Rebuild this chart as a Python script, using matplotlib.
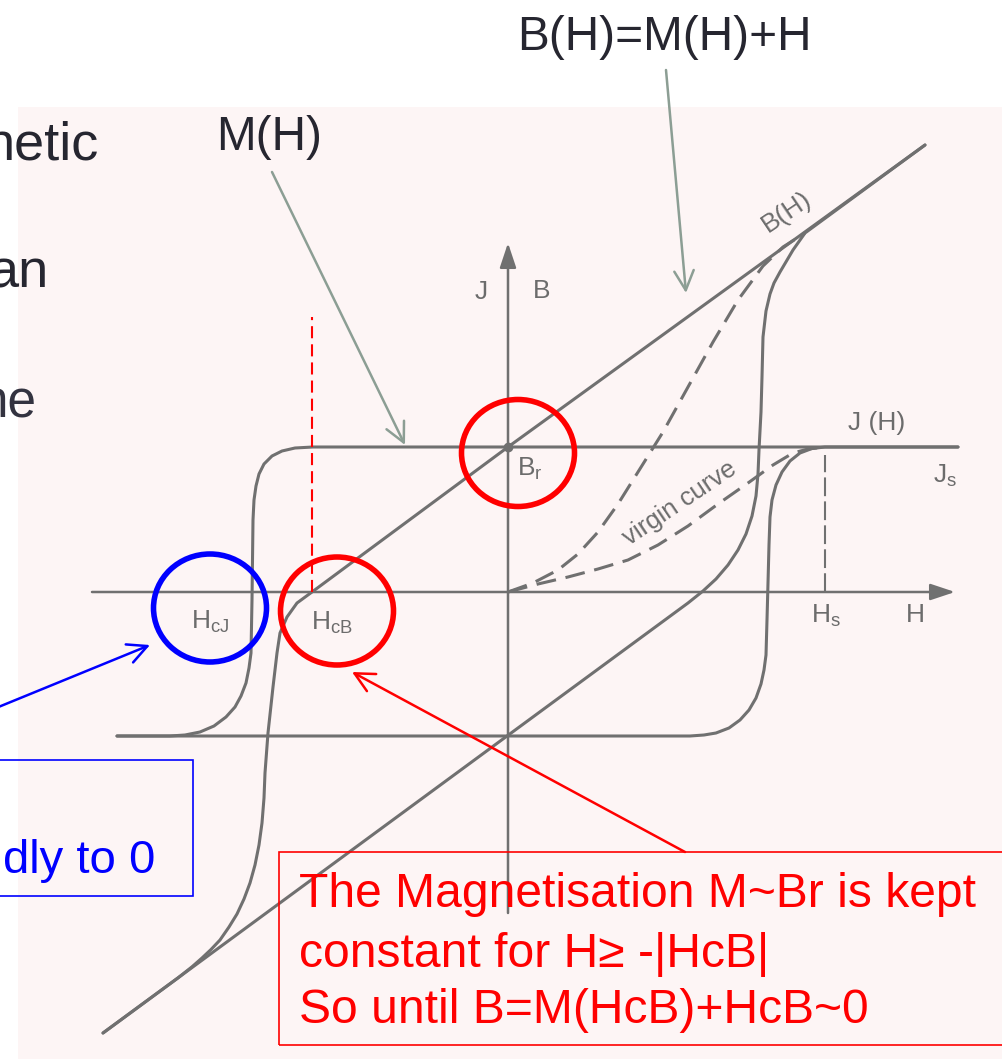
import matplotlib
matplotlib.use('Agg')
import matplotlib.pyplot as plt
from matplotlib.patches import Ellipse, Rectangle

plt.rcParams['font.family'] = ['Liberation Sans', 'DejaVu Sans']
plt.rcParams['mathtext.fontset'] = 'custom'
plt.rcParams['mathtext.rm'] = 'Liberation Sans'

# diagram values in arbitrary units (origin where the H and J/B axes cross)
Js = 145
Br = 145
Hs = 317
HcB = -196
HcJ = -256

# J(H) loop, descending branch
H_J_down = [450, -195, -213, -226, -236, -244, -249, -252, -254, -255, -256, -257,
            -259, -262, -267, -273, -282, -294, -308, -323, -338, -391]
J_down = [145, 145, 144, 141, 136, 128, 118, 106, 92, 72, -8, -61,
          -76, -91, -104, -115, -125, -134, -140, -143, -144, -144]

# J(H) loop, ascending branch
H_J_up = [-391, 182, 196, 208, 221, 232, 241, 248, 253, 256, 258, 259,
          260, 261, 262, 264, 268, 274, 282, 292, 304, 317, 450]
J_up = [-144, -144, -143, -141, -136, -128, -118, -106, -92, -78, -63, -28,
        9, 47, 75, 92, 107, 120, 131, 139, 143.5, 145, 145]

# B(H) loop, descending branch
H_B_down = [417, 0, -196, -211, -221, -228, -231, -235, -240, -243, -244, -246,
            -249, -253, -258, -264, -271, -279, -288, -297, -306, -316, -330, -405]
B_down = [447, 145, 0, -11, -25, -41, -61, -95, -141, -181, -206, -231,
          -253, -273, -291, -307, -322, -335, -348, -357.5, -366, -374.8, -385.9, -441]

# B(H) loop, ascending branch
H_B_up = [-405, 180, 195, 208, 220, 230, 238, 244, 248, 250, 251, 253, 254, 255,
          258, 262, 266, 272, 285, 297, 417]
B_up = [-441, -11, 1, 13, 27, 42, 58, 76, 96, 118, 142, 180, 215, 255,
        281, 298, 309, 320, 342, 359, 447]

# virgin curves
H_virgin_B = [0, 25, 50, 70, 90, 110, 130, 155, 180, 205, 230, 255, 275, 297]
B_virgin = [0, 9, 22, 38, 60, 88, 120, 160, 205, 250, 292, 326, 345, 359]
H_virgin_J = [0, 30, 60, 90, 120, 150, 180, 210, 240, 265, 285, 300, 317]
J_virgin = [0, 8, 15, 23, 32, 47, 66, 88, 109, 127, 139, 143, 145]

H_axis = (-416, 447)
J_axis = (-321, 349)

grey = '#707070'
label_grey = '#6c6c6c'
arrow_grey = '#8c9e94'
dark = '#262630'

fig = plt.figure(figsize=(10.02, 10.59), dpi=100)
fig.patch.set_facecolor('white')
ax = fig.add_axes([0, 0, 1, 1])
ax.set_xlim(-508, 494)
ax.set_ylim(-467, 592)
ax.axis('off')

ax.add_patch(Rectangle((-490, -467), 984, 952, facecolor='#fdf5f5',
                       edgecolor='none', zorder=0))

# axes of the diagram
axis_arrow = dict(arrowstyle='-|>,head_length=0.75,head_width=0.25',
                  mutation_scale=20, lw=1.8, color=grey, shrinkA=0, shrinkB=0)
ax.annotate('', xy=(H_axis[1], 0), xytext=(H_axis[0], 0), arrowprops=axis_arrow, zorder=2)
ax.annotate('', xy=(0, J_axis[1]), xytext=(0, J_axis[0]), arrowprops=axis_arrow, zorder=2)

# loops
line_kw = dict(color=grey, lw=2.2, solid_joinstyle='round', solid_capstyle='round', zorder=2)
ax.plot(H_J_down, J_down, **line_kw)
ax.plot(H_J_up, J_up, **line_kw)
ax.plot(H_B_down, B_down, **line_kw)
ax.plot(H_B_up, B_up, **line_kw)

ax.plot(H_virgin_B, B_virgin, color=grey, lw=2.2, dashes=(6.5, 3.2), zorder=2)
ax.plot(H_virgin_J, J_virgin, color=grey, lw=2.2, dashes=(6.5, 3.2), zorder=2)
ax.plot([Hs, Hs], [0, Js - 8], color=grey, lw=1.5, dashes=(9, 2.5), zorder=2)
ax.plot([0], [Br], 'o', color=grey, ms=6, zorder=3)

ax.plot([HcB, HcB], [0, 275], color='#ff0000', lw=1.5, dashes=(5.8, 2.9), zorder=3)

# labels of the scanned diagram
lab = dict(color=label_grey, fontsize=19, ha='center', va='center', zorder=4)
ax.text(-27, 300, 'J', **lab)
ax.text(34, 301, 'B', **lab)
ax.text(279, 380, 'B(H)', rotation=34, **lab)
ax.text(369, 169, 'J (H)', **lab)
ax.text(437, 116, r'$\mathregular{J_s}$', **lab)
ax.text(22, 123, r'$\mathregular{B_r}$', **lab)
ax.text(172, 89, 'virgin curve', rotation=34, color=label_grey, fontsize=18.5,
        ha='center', va='center', zorder=4)
ax.text(318, -24, r'$\mathregular{H_s}$', **lab)
ax.text(407, -23, 'H', **lab)
ax.text(HcJ - 42, -30, r'$\mathregular{H_{cJ}}$', **lab)
ax.text(HcB + 20, -31, r'$\mathregular{H_{cB}}$', **lab)

# highlight circles
ax.add_patch(Ellipse((10, Br - 6), 113, 107, fill=False, ec='#ff0000', lw=4, zorder=5))
ax.add_patch(Ellipse((HcB + 25, -19), 113, 108, fill=False, ec='#ff0000', lw=4, zorder=5))
ax.add_patch(Ellipse((HcJ - 42, -16), 113, 108, fill=False, ec='#0000ff', lw=4, zorder=5))

# slide annotations
ann = dict(arrowstyle='->,head_length=0.7,head_width=0.35', mutation_scale=20,
           lw=1.8, shrinkA=0, shrinkB=0)
ax.annotate('', xy=(-103, 147), xytext=(-236, 420),
            arrowprops=dict(color=arrow_grey, **ann), zorder=4)
ax.annotate('', xy=(178, 299), xytext=(158, 522),
            arrowprops=dict(color=arrow_grey, **ann), zorder=4)
ax.annotate('', xy=(-358, -53), xytext=(-512, -116),
            arrowprops=dict(color='#0000ff', **ann), zorder=4)
ax.annotate('', xy=(-156, -80), xytext=(177, -260),
            arrowprops=dict(color='#ff0000', **ann), zorder=4)

ax.text(9, 542, 'B(H)=M(H)+H', color=dark, fontsize=34.4, ha='left', va='baseline')
ax.text(-292, 442, 'M(H)', color=dark, fontsize=34.4, ha='left', va='baseline')
ax.text(-409, 432, 'netic', color=dark, fontsize=39, ha='right', va='baseline')
ax.text(-459, 305, 'an', color=dark, fontsize=39, ha='right', va='baseline')
ax.text(-471, 174, 'ne', color='#333340', fontsize=37, ha='right', va='baseline')

ax.add_patch(Rectangle((-513, -304), 198, 136, fill=False, ec='#0000ff', lw=1.2, zorder=3))
ax.text(-353, -281, 'dly to 0', color='#0000ff', fontsize=34, ha='right', va='baseline', zorder=6)

ax.add_patch(Rectangle((-229, -453), 740, 193, fill=False, ec='#ff0000', lw=1.2, zorder=3))
red_lines = ['The Magnetisation M~Br is kept',
             'constant for H\u2265 -|HcB|',
             'So until B=M(HcB)+HcB~0']
for txt, base in zip(red_lines, [-315, -375, -431]):
    ax.text(-209, base, txt, color='#ff0000', fontsize=34.6, ha='left', va='baseline', zorder=6)

fig.savefig('out.png', dpi=100)
